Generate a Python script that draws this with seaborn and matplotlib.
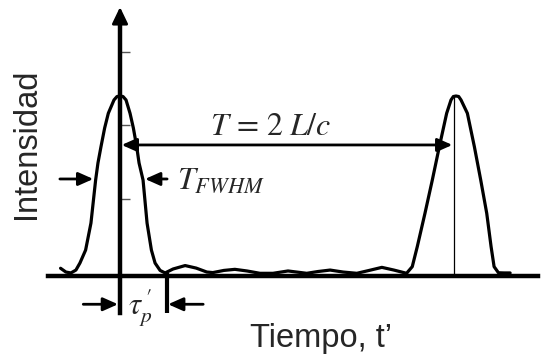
import matplotlib
matplotlib.use("Agg")
import matplotlib.pyplot as plt
import pandas as pd
import seaborn as sns

# Intensity of the pulse train vs. time (t' in units of the round trip T = 2L/c,
# intensity normalised to the pulse peak)
time = [-0.178, -0.162, -0.147, -0.132, -0.120, -0.103, -0.087, -0.073, -0.066,
        -0.057, -0.046, -0.035, -0.018, -0.009, 0.0, 0.009, 0.018, 0.030, 0.040,
        0.050, 0.057, 0.069, 0.081, 0.094, 0.105, 0.120, 0.135,
        0.159, 0.195, 0.228, 0.260, 0.278, 0.311, 0.344, 0.380, 0.419, 0.458,
        0.503, 0.559, 0.593, 0.629, 0.668, 0.709, 0.746, 0.784, 0.820, 0.858,
        0.875, 0.890, 0.913, 0.935, 0.956, 0.978, 0.991, 0.998, 1.006, 1.014,
        1.021, 1.040, 1.061, 1.080, 1.098, 1.111, 1.120, 1.133, 1.150, 1.168]
intensity = [0.043, 0.022, 0.017, 0.033, 0.072, 0.144, 0.294, 0.533, 0.628,
             0.718, 0.822, 0.904, 0.978, 0.997, 1.0, 0.997, 0.978, 0.904, 0.822,
             0.718, 0.628, 0.533, 0.294, 0.144, 0.072, 0.031, 0.017,
             0.039, 0.058, 0.044, 0.022, 0.019, 0.031, 0.037, 0.028, 0.015, 0.015,
             0.028, 0.015, 0.025, 0.033, 0.022, 0.015, 0.031, 0.048, 0.033, 0.015,
             0.052, 0.163, 0.348, 0.533, 0.718, 0.904, 0.978, 0.997, 1.0, 0.997,
             0.978, 0.904, 0.718, 0.533, 0.348, 0.163, 0.052, 0.018, 0.017, 0.017]

# Annotated quantities
period = 1.0                 # T = 2L/c, position of the second pulse
fwhm_level = 0.539           # height of the T_FWHM markers
fwhm_edges = [-0.077, 0.073] # curve crossings at that level
pulse_width = 0.140          # tau'_p
y_ticks = [0.428, 0.839, 1.244]

sns.set_theme(style="white")
plt.rcParams["font.family"] = ["Liberation Sans", "DejaVu Sans"]
plt.rcParams["mathtext.fontset"] = "stix"

fig = plt.figure(figsize=(5.48, 3.54), dpi=100)
ax = fig.add_axes([0, 0, 1, 1])
ax.set_facecolor("white")

df = pd.DataFrame({"t": time, "I": intensity})
sns.lineplot(data=df, x="t", y="I", ax=ax, color="black", linewidth=2.3,
             sort=False, estimator=None)

ax.set_xlim(-0.3593, 1.2814)
ax.set_ylim(-0.4333, 1.5333)
ax.set_xlabel("")
ax.set_ylabel("")

# Axes drawn through the origin
for side in ("top", "right"):
    ax.spines[side].set_visible(False)
ax.spines["left"].set_position(("data", 0))
ax.spines["bottom"].set_position(("data", 0))
ax.spines["left"].set_bounds(-0.204, 1.42)
ax.spines["bottom"].set_bounds(-0.216, 1.25)
for side in ("left", "bottom"):
    ax.spines[side].set_linewidth(3.2)
    ax.spines[side].set_color("black")
    ax.spines[side].set_zorder(1)

ax.set_xticks([])
ax.set_yticks(y_ticks)
ax.tick_params(axis="y", left=True, direction="in", length=7, width=1.0,
               color="#555555", labelleft=False)

head = dict(color="black", shrinkA=0, shrinkB=0, mutation_scale=10)
# Arrow heads on the axes
ax.annotate("", xy=(0, 1.494), xytext=(0, 1.40),
            arrowprops=dict(arrowstyle="-|>,head_length=1.0,head_width=0.48",
                            lw=2.0, **head))
ax.annotate("", xy=(1.284, 0), xytext=(1.23, 0),
            arrowprops=dict(arrowstyle="-|>,head_length=1.0,head_width=0.48",
                            lw=2.0, **head))

# Vertical reference through the second pulse
ax.vlines(period, 0, 1.0, color="black", lw=0.9)

# Round-trip period arrow
t_level = 0.728
ax.annotate("", xy=(period - 0.005, t_level), xytext=(0.005, t_level),
            arrowprops=dict(arrowstyle="<|-|>,head_length=0.9,head_width=0.4",
                            lw=2.0, **head))
ax.text(0.269, 0.783, r"$T\,=\,2\;L/c$", fontsize=23, ha="left", va="baseline")

# FWHM markers
ax.annotate("", xy=(fwhm_edges[0] - 0.003, fwhm_level), xytext=(-0.180, fwhm_level),
            arrowprops=dict(arrowstyle="-|>,head_length=0.9,head_width=0.4",
                            lw=2.0, **head))
ax.annotate("", xy=(fwhm_edges[1] + 0.002, fwhm_level), xytext=(0.141, fwhm_level),
            arrowprops=dict(arrowstyle="-|>,head_length=0.9,head_width=0.4",
                            lw=2.0, **head))
ax.text(0.170, 0.482, r"$T_{FWHM}$", fontsize=23, ha="left", va="baseline")

# Pulse width tau'_p
ax.vlines(pulse_width, -0.204, 0.017, color="black", lw=3.0)
tau_level = -0.157
ax.annotate("", xy=(-0.006, tau_level), xytext=(-0.110, tau_level),
            arrowprops=dict(arrowstyle="-|>,head_length=0.9,head_width=0.4",
                            lw=2.0, **head))
ax.annotate("", xy=(pulse_width + 0.004, tau_level), xytext=(0.249, tau_level),
            arrowprops=dict(arrowstyle="-|>,head_length=0.9,head_width=0.4",
                            lw=2.0, **head))
ax.text(0.025, -0.217, r"$\tau_{p}^{\,\prime}$", fontsize=22, ha="left", va="baseline")

# Axis titles
ax.text(-0.281, 0.733, "Intensidad", fontsize=23.5, rotation=90,
        ha="center", va="center")
ax.text(0.602, -0.394, "Tiempo, t\u2019", fontsize=23.5, ha="center", va="baseline")

fig.savefig("out.png", dpi=100, facecolor="white")
